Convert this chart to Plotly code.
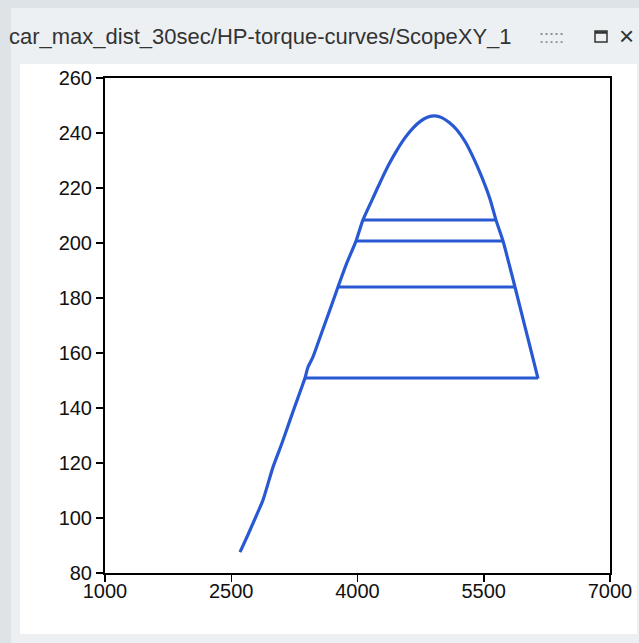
import plotly.graph_objects as go

# HP vs engine speed curve (path of the scope trace)
curve_rpm = [2604, 2700, 2800, 2877, 2996, 3100, 3198, 3290, 3376, 3412, 3470, 3570,
             3670, 3768, 3870, 3982, 4065, 4172, 4280, 4380, 4469, 4570, 4659, 4750,
             4830, 4921, 5000, 5090, 5182, 5280, 5372, 5470, 5574, 5645, 5729, 5800,
             5871, 5950, 6040, 6145]
curve_hp = [87.6, 94.0, 101.0, 106.5, 118.5, 127.0, 135.6, 143.5, 150.9, 154.9, 158.5, 167.0,
            175.5, 184.0, 192.5, 200.7, 208.4, 215.6, 222.8, 229.0, 233.8, 238.5, 241.8, 244.3,
            245.7, 246.2, 245.6, 243.8, 241.1, 236.8, 231.3, 224.5, 216.0, 208.4, 200.7, 192.5,
            184.0, 174.4, 163.5, 150.7]

# gear shifts: rpm before shift, rpm after shift, HP level
shift_from_rpm = [6145, 5871, 5729, 5645]
shift_to_rpm = [3376, 3768, 3982, 4065]
shift_hp = [150.9, 184.0, 200.7, 208.4]

x_ticks = [1000, 2500, 4000, 5500, 7000]
y_ticks = [80, 100, 120, 140, 160, 180, 200, 220, 240, 260]

W, H = 639, 643
L, R, T, B = 105, 29, 78, 70
PW, PH = W - L - R, H - T - B

def px(x):
    return (x - L) / PW

def py(y):
    return (H - B - y) / PH

BLUE = "#2859d3"

fig = go.Figure()
fig.add_trace(go.Scatter(x=curve_rpm, y=curve_hp, mode="lines",
                         line=dict(color=BLUE, width=3.2, shape="spline", smoothing=0.6),
                         showlegend=False, hoverinfo="skip"))
sx, sy = [], []
for a, b, h in zip(shift_from_rpm, shift_to_rpm, shift_hp):
    sx += [a, b, None]
    sy += [h, h, None]
fig.add_trace(go.Scatter(x=sx, y=sy, mode="lines",
                         line=dict(color=BLUE, width=3), showlegend=False,
                         hoverinfo="skip"))

shapes = [
    # window panel
    dict(type="rect", xref="paper", yref="paper", x0=px(11), x1=px(640), y0=py(644), y1=py(8),
         fillcolor="#ecf0f3", line=dict(width=0), layer="below"),
    # white content area
    dict(type="rect", xref="paper", yref="paper", x0=px(20), x1=px(637), y0=py(634), y1=py(64),
         fillcolor="#ffffff", line=dict(width=0), layer="below"),
    # maximize icon
    dict(type="rect", xref="paper", yref="paper", x0=px(595), x1=px(607), y0=py(42), y1=py(31),
         fillcolor="rgba(0,0,0,0)", line=dict(color="#333", width=1.5), layer="above"),
    dict(type="line", xref="paper", yref="paper", x0=px(595), x1=px(607), y0=py(32.5), y1=py(32.5),
         line=dict(color="#333", width=2.5), layer="above"),
]

annotations = [
    dict(text="car_max_dist_30sec/HP-torque-curves/ScopeXY_1", xref="paper", yref="paper",
         x=px(7), y=py(37), xanchor="left", yanchor="middle", showarrow=False,
         font=dict(family="Liberation Sans, Arial", size=22, color="#333333")),
    dict(text=":::::", xref="paper", yref="paper",
         x=px(551), y=py(37), xanchor="center", yanchor="middle", showarrow=False,
         font=dict(family="Liberation Sans, Arial", size=18, color="#888888")),
    dict(text="×", xref="paper", yref="paper",
         x=px(626), y=py(36), xanchor="center", yanchor="middle", showarrow=False,
         font=dict(family="Liberation Sans, Arial", size=26, color="#333333")),
]

axis_common = dict(showline=True, linecolor="black", linewidth=2, mirror=True,
                   ticks="outside", ticklen=7, tickwidth=1.5, tickcolor="black",
                   showgrid=False, zeroline=False, automargin=False,
                   tickfont=dict(family="Liberation Sans, Arial", size=20, color="#111111"))

fig.update_layout(
    width=W, height=H,
    autosize=False,
    margin=dict(l=L, r=R, t=T, b=B, pad=0, autoexpand=False),
    paper_bgcolor="#dde3e7",
    plot_bgcolor="white",
    xaxis=dict(range=[1000, 7000], tickvals=x_ticks, ticktext=[str(v) for v in x_ticks],
               ticklabelstandoff=-8, **axis_common),
    yaxis=dict(range=[80, 260], tickvals=y_ticks, ticktext=[str(v) for v in y_ticks], **axis_common),
    shapes=shapes,
    annotations=annotations,
)

fig.write_html("out.html",
               config={"displayModeBar": False, "responsive": False, "staticPlot": True},
               post_script="document.body.style.margin='0';document.body.style.padding='0';"
                           "document.documentElement.style.overflow='hidden';")
